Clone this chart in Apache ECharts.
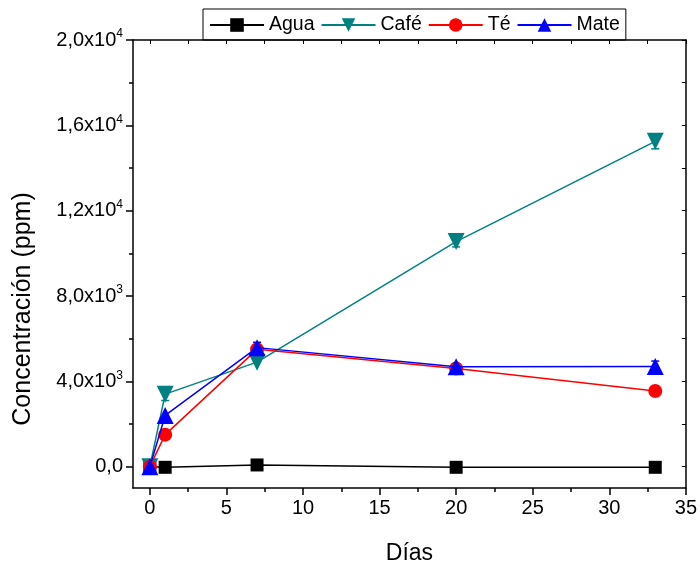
<!DOCTYPE html>
<html><head><meta charset="utf-8">
<script src="https://cdn.jsdelivr.net/npm/echarts@6/dist/echarts.min.js"></script>
<style>html,body{margin:0;padding:0;background:#fff}#c{width:700px;height:570px}</style>
</head><body><div id="c"></div>
<script>
const days = [0, 1, 7, 20, 33];
const agua = [0, -30, 80, -30, -30];
const cafe = [0, 3400, 4900, 10550, 15250];
const te   = [0, 1500, 5500, 4600, 3550];
const mate = [0, 2400, 5580, 4680, 4700];
const cafeErr = [0, 300, 0, 250, 350];
const mateErr = [0, 0, 250, 0, 250];
const yTicks = [0, 4000, 8000, 12000, 16000, 20000];
const yTickLabels = ['0,0', '4,0x10{s|3}', '8,0x10{s|3}', '1,2x10{s|4}', '1,6x10{s|4}', '2,0x10{s|4}'];
const yMinor = [2000, 6000, 10000, 14000, 18000];
const xTicks = [0, 5, 10, 15, 20, 25, 30, 35];
const xMinor = [2.5, 7.5, 12.5, 17.5, 22.5, 27.5, 32.5];

const FONT = 'Liberation Sans, Arial, sans-serif';
const chart = echarts.init(document.getElementById('c'));

function pairs(vals){ return days.map((d,i)=>[d, vals[i]]); }
function errSeries(vals, errs, color){
  return {
    type: 'custom', xAxisIndex: 0, yAxisIndex: 0, z: 1, silent: true,
    data: days.map((d,i)=>[d, vals[i], errs[i]]).filter(r=>r[2]>0),
    renderItem: function(params, api){
      const x = api.value(0), y = api.value(1), e = api.value(2);
      const top = api.coord([x, y+e]), bot = api.coord([x, y-e]);
      const w = 4;
      const st = {stroke: color, lineWidth: 1.5};
      return {type:'group', children:[
        {type:'line', shape:{x1:top[0],y1:top[1],x2:bot[0],y2:bot[1]}, style:st},
        {type:'line', shape:{x1:top[0]-w,y1:top[1],x2:top[0]+w,y2:top[1]}, style:st},
        {type:'line', shape:{x1:bot[0]-w,y1:bot[1],x2:bot[0]+w,y2:bot[1]}, style:st}
      ]};
    }
  };
}

const axisLine = {show:true, onZero:false, lineStyle:{color:'#000', width:1.5}};
const noLine = {show:false, onZero:false};
const XMIN = -1.1, XMAX = 35, YMIN = -1000, YMAX = 20000;
const option = {
  animation: false,
  textStyle: {fontFamily: FONT},
  grid: {left: 133, right: 13, top: 40, bottom: 79},
  legend: {
    left: 203, top: 9, padding: [6, 6, 5, 6], itemGap: 6,
    itemWidth: 54, itemHeight: 17,
    borderColor: '#000', borderWidth: 1,
    textStyle: {fontSize: 19.5, color: '#000', fontFamily: FONT},
    data: ['Agua', 'Café', 'Té', 'Mate']
  },
  xAxis: [
    {type:'value', min:XMIN, max:XMAX, position:'bottom',
     name:'Días', nameLocation:'middle', nameGap:54,
     nameTextStyle:{fontSize:23, color:'#000', fontFamily:FONT},
     axisLine: axisLine, splitLine:{show:false},
     axisTick:{show:true, inside:false, length:7, customValues:xTicks, lineStyle:{color:'#000', width:1.5}},
     axisLabel:{show:true, customValues:xTicks, fontSize:20, color:'#000', margin:10, fontFamily:FONT}},
    {type:'value', min:XMIN, max:XMAX, position:'bottom',
     axisLine: noLine, splitLine:{show:false},
     axisTick:{show:true, inside:false, length:4, customValues:xMinor, lineStyle:{color:'#000', width:1.5}},
     axisLabel:{show:false}},
    {type:'value', min:XMIN, max:XMAX, position:'top',
     axisLine: axisLine, splitLine:{show:false},
     axisTick:{show:true, inside:true, length:4, customValues:xTicks.concat(xMinor), lineStyle:{color:'#000', width:1}},
     axisLabel:{show:false}}
  ],
  yAxis: [
    {type:'value', min:YMIN, max:YMAX, position:'left',
     name:'Concentración (ppm)', nameLocation:'middle', nameGap:97, nameRotate:90,
     nameTextStyle:{fontSize:25, color:'#000', fontFamily:FONT, padding:[0, 90, 0, 0]},
     axisLine: axisLine, splitLine:{show:false},
     axisTick:{show:true, inside:false, length:7, customValues:yTicks, lineStyle:{color:'#000', width:1.5}},
     axisLabel:{show:true, customValues:yTicks, fontSize:20, color:'#000', margin:10, fontFamily:FONT,
       formatter: function(v){ const i = yTicks.indexOf(v); return i>=0 ? yTickLabels[i] : ''; },
       rich:{s:{fontSize:12, verticalAlign:'top', padding:[0,0,12,0], color:'#000', fontFamily:FONT}}}},
    {type:'value', min:YMIN, max:YMAX, position:'left',
     axisLine: noLine, splitLine:{show:false},
     axisTick:{show:true, inside:false, length:4, customValues:yMinor, lineStyle:{color:'#000', width:1.5}},
     axisLabel:{show:false}},
    {type:'value', min:YMIN, max:YMAX, position:'right',
     axisLine: axisLine, splitLine:{show:false},
     axisTick:{show:true, inside:true, length:4, customValues:yTicks.concat(yMinor), lineStyle:{color:'#000', width:1}},
     axisLabel:{show:false}}
  ],
  series: [
    {name:'Agua', type:'line', data:pairs(agua), symbol:'rect', symbolSize:13,
     itemStyle:{color:'#000'}, lineStyle:{color:'#000', width:1.5}, z:2},
    {name:'Café', type:'line', data:pairs(cafe), symbol:'triangle', symbolRotate:180, symbolSize:17,
     itemStyle:{color:'#008080'}, lineStyle:{color:'#008080', width:1.5}, z:3},
    {name:'Té', type:'line', data:pairs(te), symbol:'circle', symbolSize:14,
     itemStyle:{color:'#ff0000'}, lineStyle:{color:'#ff0000', width:1.5}, z:4},
    {name:'Mate', type:'line', data:pairs(mate), symbol:'triangle', symbolSize:17,
     itemStyle:{color:'#0000ff'}, lineStyle:{color:'#0000ff', width:1.5}, z:5},
    errSeries(cafe, cafeErr, '#008080'),
    errSeries(mate, mateErr, '#0000ff')
  ]
};
chart.setOption(option);
</script></body></html>
